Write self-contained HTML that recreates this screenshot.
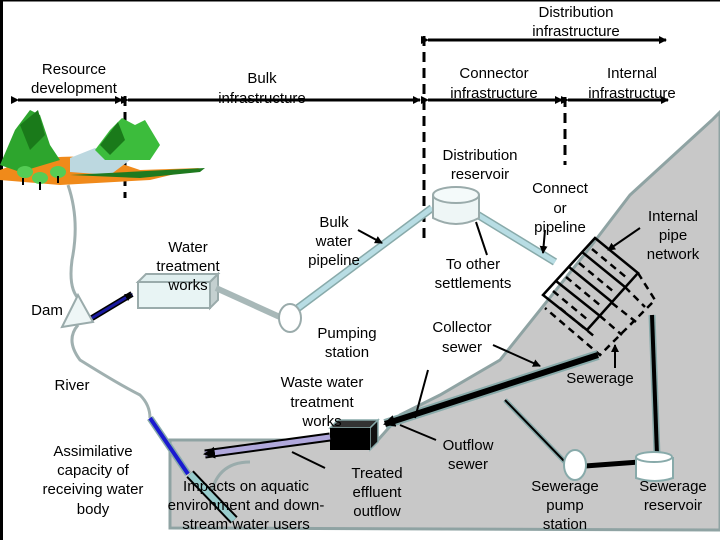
<!DOCTYPE html>
<html><head><meta charset="utf-8"><style>
body{margin:0;width:720px;height:540px;overflow:hidden;background:#fff}
svg{display:block}
text{font-family:"Liberation Sans",sans-serif;font-size:15px;fill:#000;text-anchor:middle}
</style></head><body>
<svg width="720" height="540" viewBox="0 0 720 540">
<defs>
<marker id="ah" markerWidth="8" markerHeight="8" refX="7" refY="4" orient="auto" markerUnits="userSpaceOnUse"><path d="M0,0 L8,4 L0,8 z" fill="#000"/></marker>
<marker id="ahb" markerWidth="12" markerHeight="12" refX="10" refY="6" orient="auto" markerUnits="userSpaceOnUse"><path d="M0,0 L12,6 L0,12 z" fill="#000"/></marker>
</defs>
<rect x="0" y="0" width="720" height="540" fill="#fff"/>
<path d="M720,112 L712,120 L630,195 L588,250 L500,360 L440,395 L400,415 L378,440 L170,440 L170,528 L720,530 Z" fill="#c8c8c8" stroke="#8fa3a3" stroke-width="3"/>
<path d="M250,462 Q215,462 210,500" fill="none" stroke="#9aacac" stroke-width="3"/>
<rect x="0" y="0" width="3" height="540" fill="#000"/>
<rect x="0" y="0" width="720" height="1.5" fill="#000"/>
<g stroke="#000" stroke-width="3" fill="none">
<line x1="428" y1="40" x2="666" y2="40" marker-end="url(#ah)" marker-start="url(#ah)"/>
<line x1="18" y1="100" x2="122" y2="100" marker-start="url(#ah)" marker-end="url(#ah)"/>
<line x1="128" y1="100" x2="420" y2="100" marker-start="url(#ah)" marker-end="url(#ah)"/>
<line x1="428" y1="100" x2="562" y2="100" marker-start="url(#ah)" marker-end="url(#ah)"/>
<line x1="568" y1="100" x2="668" y2="100" marker-start="url(#ah)" marker-end="url(#ah)"/>
</g>
<g stroke="#000" stroke-width="3" stroke-dasharray="10,6">
<line x1="424" y1="36" x2="424" y2="240"/>
<line x1="565" y1="97" x2="565" y2="165"/>
<line x1="125" y1="96" x2="125" y2="198"/>
</g>
<g>
<path d="M0,170 Q50,150 110,160 L140,170 L200,168 L150,180 L60,185 L0,180 Z" fill="#f08a1a"/>
<path d="M70,158 L95,148 L130,160 L110,175 L70,172 Z" fill="#bcd8e0"/>
<path d="M70,175 L205,168 L200,172 L140,178 Z" fill="#1f7a1f"/>
<path d="M0,165 L15,130 L30,110 L40,115 L50,145 L60,160 L20,172 Z" fill="#2da52d"/>
<path d="M20,125 L38,110 L45,135 L30,150 Z" fill="#1a7a1a"/>
<path d="M95,150 L110,130 L122,118 L135,125 L145,120 L160,145 L150,160 L105,160 Z" fill="#3cbc3c"/>
<path d="M100,145 L118,122 L125,140 L110,155 Z" fill="#1a7a1a"/>
<ellipse cx="25" cy="172" rx="8" ry="6" fill="#5c5"/>
<ellipse cx="40" cy="178" rx="8" ry="6" fill="#5c5"/>
<ellipse cx="58" cy="172" rx="8" ry="6" fill="#5c5"/>
<g stroke="#000" stroke-width="2"><line x1="23" y1="178" x2="23" y2="185"/><line x1="40" y1="182" x2="40" y2="190"/><line x1="58" y1="176" x2="58" y2="183"/></g>
</g>
<path d="M68,185 Q80,220 72,260 Q68,290 80,300 M78,325 Q65,340 80,360 Q120,385 140,395 Q150,405 150,418" fill="none" stroke="#a0b0b0" stroke-width="3"/>
<polygon points="62,327 93,322 78,295" fill="#eef6f6" stroke="#9aabab" stroke-width="2"/>
<line x1="92" y1="318" x2="132" y2="294" stroke="#000" stroke-width="6"/>
<line x1="92" y1="318" x2="132" y2="294" stroke="#1a1aa0" stroke-width="3" marker-end="url(#ah)"/>
<polygon points="138,282 146,274 218,274 210,282" fill="#dfeeee" stroke="#9aabab" stroke-width="2"/>
<polygon points="210,282 218,274 218,300 210,308" fill="#c4d0d0" stroke="#9aabab" stroke-width="2"/>
<rect x="138" y="282" width="72" height="26" fill="#e8f4f4" stroke="#9aabab" stroke-width="2"/>
<line x1="216" y1="288" x2="282" y2="318" stroke="#a8b8b8" stroke-width="6"/>
<line x1="298" y1="308" x2="432" y2="208" stroke="#8aa" stroke-width="8"/>
<line x1="298" y1="308" x2="432" y2="208" stroke="#b8dde4" stroke-width="5"/>
<ellipse cx="290" cy="318" rx="11" ry="14" fill="#fff" stroke="#9aabab" stroke-width="2"/>
<line x1="478" y1="215" x2="555" y2="262" stroke="#8aa" stroke-width="8"/>
<line x1="478" y1="215" x2="555" y2="262" stroke="#b8dde4" stroke-width="5"/>
<path d="M433,195 L433,218 Q456,230 479,218 L479,195" fill="#eef6f6" stroke="#9aabab" stroke-width="2"/>
<ellipse cx="456" cy="195" rx="23" ry="8" fill="#f4fafa" stroke="#9aabab" stroke-width="2"/>
<g stroke="#000" stroke-width="2.5" fill="none">
<polygon points="543,295 595,238 638,273 587,330"/>
<line x1="556" y1="281" x2="600" y2="316"/>
<line x1="569" y1="267" x2="612" y2="302"/>
<line x1="582" y1="252" x2="625" y2="287"/>
<g stroke-dasharray="7,5">
<path d="M638,273 L655,300 L600,355 L545,308"/>
<line x1="600" y1="316" x2="622" y2="335"/><line x1="625" y1="287" x2="645" y2="307"/>
<line x1="553" y1="291" x2="588" y2="320"/>
<line x1="566" y1="277" x2="601" y2="306"/>
<line x1="579" y1="263" x2="614" y2="292"/>
<line x1="592" y1="249" x2="627" y2="278"/>
<line x1="560" y1="308" x2="595" y2="337"/>
<line x1="612" y1="303" x2="636" y2="322"/>
</g>
</g>
<line x1="598" y1="355" x2="385" y2="424" stroke="#8aa" stroke-width="10"/>
<line x1="598" y1="355" x2="385" y2="424" stroke="#000" stroke-width="6" marker-end="url(#ahb)"/>
<polygon points="330,428 338,420 378,420 370,428" fill="#333" stroke="#8aa" stroke-width="1.5"/>
<polygon points="370,428 378,420 378,442 370,450" fill="#111" stroke="#8aa" stroke-width="1.5"/>
<rect x="330" y="428" width="40" height="22" fill="#000"/>
<line x1="330" y1="437" x2="205" y2="454" stroke="#000" stroke-width="9"/>
<line x1="330" y1="437" x2="205" y2="454" stroke="#b0a8dc" stroke-width="5" marker-end="url(#ahb)"/>
<line x1="150" y1="418" x2="188" y2="474" stroke="#8aa" stroke-width="7"/>
<line x1="150" y1="418" x2="188" y2="474" stroke="#1a1ad0" stroke-width="4"/>
<line x1="190" y1="474" x2="234" y2="520" stroke="#000" stroke-width="10"/>
<line x1="190" y1="474" x2="234" y2="520" stroke="#9cc" stroke-width="6"/>
<line x1="505" y1="400" x2="565" y2="462" stroke="#8aa" stroke-width="5"/>
<line x1="505" y1="400" x2="565" y2="462" stroke="#000" stroke-width="2"/>
<line x1="652" y1="315" x2="657" y2="455" stroke="#8aa" stroke-width="7"/>
<line x1="652" y1="315" x2="657" y2="455" stroke="#000" stroke-width="4"/>
<line x1="585" y1="466" x2="640" y2="462" stroke="#000" stroke-width="5"/>
<ellipse cx="575" cy="465" rx="11" ry="15" fill="#fff" stroke="#8aa" stroke-width="2"/>
<path d="M636,457 L636,478 Q655,484 673,478 L673,457" fill="#fff" stroke="#8aa" stroke-width="2"/>
<ellipse cx="654" cy="457" rx="18" ry="5" fill="#fff" stroke="#8aa" stroke-width="2"/>
<g stroke="#000" stroke-width="2" fill="none">
<line x1="358" y1="230" x2="382" y2="243" marker-end="url(#ah)"/>
<line x1="476" y1="222" x2="487" y2="255"/>
<line x1="545" y1="230" x2="543" y2="253" marker-end="url(#ah)"/>
<line x1="640" y1="228" x2="608" y2="250" marker-end="url(#ah)"/>
<line x1="493" y1="345" x2="540" y2="366" marker-end="url(#ah)"/>
<line x1="615" y1="368" x2="615" y2="345" marker-end="url(#ah)"/>
<line x1="428" y1="370" x2="415" y2="418"/>
<line x1="436" y1="440" x2="400" y2="425"/>
<line x1="325" y1="468" x2="292" y2="452"/>
</g>
<text x="576" y="17">Distribution</text><text x="576" y="36">infrastructure</text>
<text x="74" y="74">Resource</text><text x="74" y="93">development</text>
<text x="262" y="83">Bulk</text><text x="262" y="103">infrastructure</text>
<text x="494" y="78">Connector</text><text x="494" y="98">infrastructure</text>
<text x="632" y="78">Internal</text><text x="632" y="98">infrastructure</text>
<text x="480" y="160">Distribution</text><text x="480" y="179">reservoir</text>
<text x="560" y="193">Connect</text><text x="560" y="213">or</text><text x="560" y="232">pipeline</text>
<text x="673" y="221">Internal</text><text x="673" y="240">pipe</text><text x="673" y="259">network</text>
<text x="334" y="227">Bulk</text><text x="334" y="246">water</text><text x="334" y="265">pipeline</text>
<text x="188" y="252">Water</text><text x="188" y="271">treatment</text><text x="188" y="290">works</text>
<text x="473" y="269">To other</text><text x="473" y="288">settlements</text>
<text x="47" y="315">Dam</text>
<text x="347" y="338">Pumping</text><text x="347" y="357">station</text>
<text x="462" y="332">Collector</text><text x="462" y="352">sewer</text>
<text x="72" y="390">River</text>
<text x="322" y="387">Waste water</text><text x="322" y="407">treatment</text><text x="322" y="426">works</text>
<text x="600" y="383">Sewerage</text>
<text x="93" y="456">Assimilative</text><text x="93" y="475">capacity of</text><text x="93" y="494">receiving water</text><text x="93" y="514">body</text>
<text x="468" y="450">Outflow</text><text x="468" y="469">sewer</text>
<text x="377" y="478">Treated</text><text x="377" y="497">effluent</text><text x="377" y="516">outflow</text>
<text x="246" y="491">Impacts on aquatic</text><text x="246" y="510">environment and down-</text><text x="246" y="529">stream water users</text>
<text x="565" y="491">Sewerage</text><text x="565" y="510">pump</text><text x="565" y="529">station</text>
<text x="673" y="491">Sewerage</text><text x="673" y="510">reservoir</text>
</svg>
</body></html>
